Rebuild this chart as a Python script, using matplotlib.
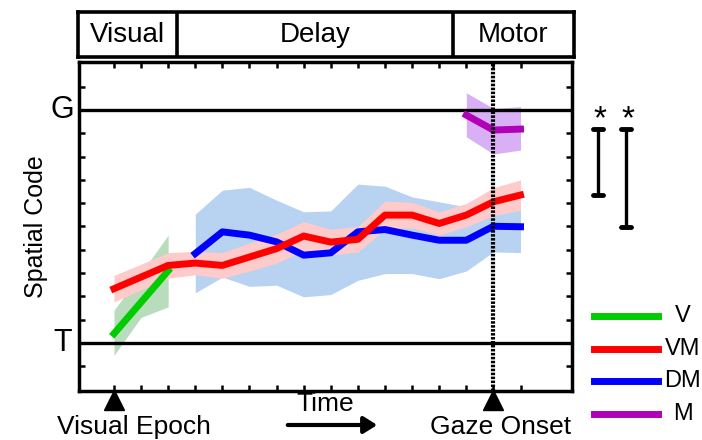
import numpy as np
import matplotlib
matplotlib.use('Agg')
import matplotlib.pyplot as plt
from matplotlib.lines import Line2D

plt.rcParams['font.family'] = ['Liberation Sans', 'DejaVu Sans']

# time bins (tick positions), T = 0, G = 10
t = np.arange(16)

v_x = t[0:3]
v = [0.4, 1.75, 3.1]
v_lo = [-0.53, 1.1, 1.55]
v_hi = [1.4, 3.0, 4.63]

vm = [2.33, 2.83, 3.33, 3.43, 3.33, 3.69, 4.05, 4.59, 4.33, 4.45, 5.49, 5.49, 5.13, 5.49, 6.06, 6.35]
vm_err = [0.57, 0.55, 0.55, 0.5, 0.55, 0.6, 0.62, 0.62, 0.55, 0.55, 0.6, 0.55, 0.5, 0.5, 0.6, 0.65]

dm_x = t[3:]
dm = [3.84, 4.77, 4.63, 4.34, 3.77, 3.87, 4.77, 4.87, 4.63, 4.41, 4.41, 5.01, 4.99]
dm_lo = [2.15, 2.83, 2.43, 2.48, 1.98, 2.08, 2.69, 2.98, 2.98, 2.76, 3.09, 3.91, 3.88]
dm_hi = [5.53, 6.56, 6.68, 6.13, 5.63, 5.67, 6.82, 6.73, 6.27, 6.06, 5.84, 6.2, 5.7]

m_x = t[13:]
m = [9.78, 9.14, 9.18]
m_lo = [8.85, 8.11, 8.28]
m_hi = [10.74, 10.07, 10.14]

epochs = ['Visual', 'Delay', 'Motor']
epoch_edges = [-1.29, 2.35, 12.45, 16.9]
visual_t = 0
gaze_t = 14

c_v, c_vm, c_dm, c_m = '#00cc00', '#ff0000', '#0000ff', '#b000b8'

fig = plt.figure(figsize=(7.02, 4.40), dpi=100)
W, H = 702.0, 440.0
ax = fig.add_axes([79 / W, 1 - 391 / H, 493 / W, 329 / H])

vm = np.array(vm)
vm_err = np.array(vm_err)
ax.fill_between(dm_x, dm_lo, dm_hi, color='#b8d3f1', lw=0)
ax.fill_between(v_x, v_lo, v_hi, color='#b9dcbc', lw=0)
ax.fill_between(t, vm - vm_err, vm + vm_err, color='#ffcaca', lw=0)
ax.fill_between(m_x, m_lo, m_hi, color='#d9b0f6', lw=0)

ax.axhline(0, color='k', lw=2.4)
ax.axhline(10, color='k', lw=2.4)

ax.plot(v_x, v, color=c_v, lw=5)
ax.plot(dm_x, dm, color=c_dm, lw=5)
ax.plot(t, vm, color=c_vm, lw=5)
ax.plot(m_x, m, color=c_m, lw=5)

ax.axvline(gaze_t, color='k', lw=3, ls=(0, (0.6, 0.35)))

ax.set_xlim(epoch_edges[0], epoch_edges[-1])
ax.set_ylim(-2.06, 12.06)
ax.set_xticks(t)
ax.set_yticks(np.arange(-1, 12))
ax.tick_params(direction='in', length=4.5, width=1.8, top=True, right=True,
               labelbottom=False, labelleft=False)
for s in ax.spines.values():
    s.set_linewidth(2.5)

ax.text(-0.034, 10, 'G', transform=ax.get_yaxis_transform(), ha='center', va='center', fontsize=22)
ax.text(-0.034, 0, 'T', transform=ax.get_yaxis_transform(), ha='center', va='center', fontsize=22)
ax.set_ylabel('Spatial Code', fontsize=18, labelpad=22)

# epoch markers
ax.plot([visual_t, gaze_t], [-0.028, -0.028], ls='none', marker='^', ms=14, color='k',
        transform=ax.get_xaxis_transform(), clip_on=False)

# significance bars: M vs VM, M vs DM at last bin
for bx, lo in [(17.86, vm[-1]), (18.89, dm[-1])]:
    hi = m[-1]
    ax.plot([bx, bx], [lo, hi], color='k', lw=2.4, clip_on=False)
    for yy in (lo, hi):
        ax.plot([bx - 0.2, bx + 0.2], [yy, yy], color='k', lw=3.5, clip_on=False,
                solid_capstyle='round')
    ax.text(bx + 0.07, hi + 0.4, '*', ha='center', va='center', fontsize=24, clip_on=False)

# header with epochs
hdr = fig.add_axes([78 / W, 1 - 57 / H, 496 / W, 45 / H])
hdr.set_xlim(epoch_edges[0], epoch_edges[-1])
hdr.set_ylim(0, 1)
hdr.set_xticks([])
hdr.set_yticks([])
for s in hdr.spines.values():
    s.set_linewidth(2.6)
for e in epoch_edges[1:-1]:
    hdr.axvline(e, color='k', lw=2.6)
for name, a, b in zip(epochs, epoch_edges[:-1], epoch_edges[1:]):
    hdr.text((a + b) / 2, 0.5, name, ha='center', va='center', fontsize=20)

# bottom annotations
fig.text(134 / W, 1 - 427 / H, 'Visual Epoch', ha='center', va='center', fontsize=19)
fig.text(501 / W, 1 - 427 / H, 'Gaze Onset', ha='center', va='center', fontsize=19)
fig.text(325 / W, 1 - 404 / H, 'Time', ha='center', va='center', fontsize=19)
fig.patches.append(plt.matplotlib.patches.FancyArrowPatch(
    (285 / W, 1 - 425 / H), (380 / W, 1 - 425 / H), transform=fig.transFigure,
    arrowstyle='-|>,head_length=8,head_width=5', color='k', lw=3, mutation_scale=1))

# legend
labels = ['V', 'VM', 'DM', 'M']
colors = [c_v, c_vm, c_dm, c_m]
for i, (lab, c) in enumerate(zip(labels, colors)):
    y = 1 - (316 + i * 32.7) / H
    fig.add_artist(Line2D([594 / W, 658 / W], [y, y], color=c, lw=5, transform=fig.transFigure))
    fig.text(683 / W, y, lab, ha='center', va='center', fontsize=17)

fig.savefig('out.png', dpi=100)
